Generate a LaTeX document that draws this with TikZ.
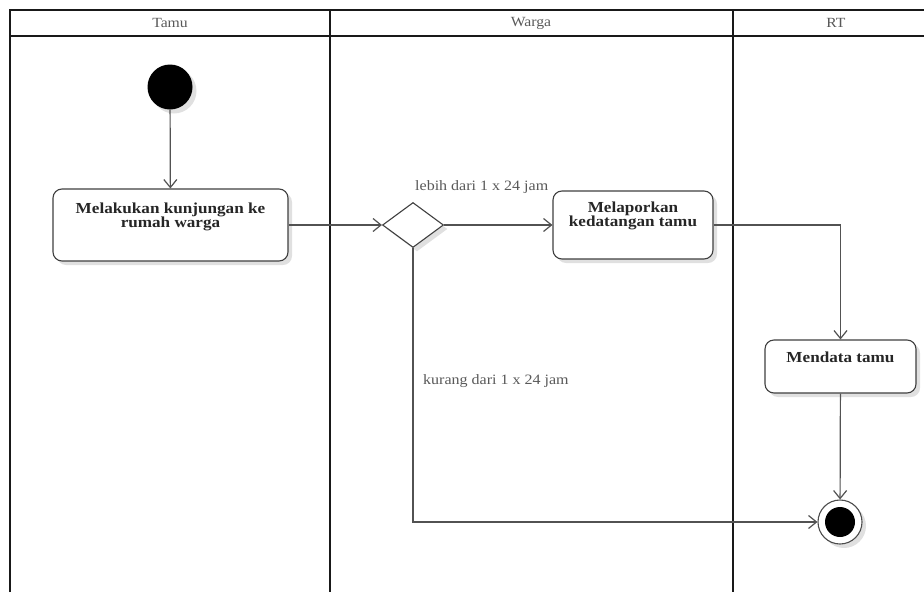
\documentclass[tikz,border=0pt]{standalone}
\usepackage{fontspec}
\setmainfont{Liberation Serif}
\usetikzlibrary{shapes.geometric,shadows,arrows.meta}

\newfontfamily\lanefont[FakeStretch=1.12]{Liberation Serif}

\tikzset{
  lane/.style={draw=black!90, line width=2pt},
  lanetitle/.style={text=black!65, font=\lanefont\fontsize{14}{14}\selectfont},
  softshadow/.style={drop shadow={shadow xshift=4pt, shadow yshift=-4pt, opacity=0.12, fill=black}},
  activity/.style={draw=black!75, line width=1.1pt, fill=white, rounded corners=9pt, inner sep=0pt, softshadow},
  acttext/.style={text=black!85, align=center, inner sep=0pt, anchor=north, font=\lanefont\bfseries\fontsize{15.3}{14.5}\selectfont},
  choice/.style={diamond, aspect=1.36, draw=black!75, line width=1.1pt, fill=white, minimum width=61pt, minimum height=45pt, inner sep=0pt, softshadow},
  guard/.style={text=black!65, inner sep=0pt, anchor=west, font=\lanefont\fontsize{14.3}{14}\selectfont},
  flow/.style={draw=black!68, line width=1.2pt, -{Straight Barb[length=8pt,width=13pt]}},
}

\begin{document}
\begin{tikzpicture}[x=1pt, y=-1pt]
        \useasboundingbox (0,0) rectangle (924,592);
        \fill[white] (0,0) rectangle (924,592);

        \draw[lane] (10,592) -- (10,10) -- (924,10);
        \draw[lane] (10,36) -- (924,36);
        \draw[lane] (330,10) -- (330,592);
        \draw[lane] (733,10) -- (733,592);
        \node[lanetitle] (tamu)  at (170,23) {Tamu};
        \node[lanetitle] (warga) at (531,23) {Warga};
        \node[lanetitle] (rt)    at (836,23) {RT};

        \node[circle, fill=black, minimum size=45pt, inner sep=0pt, softshadow] (start) at (170,87) {};

        \node[activity, minimum width=235pt, minimum height=72pt] (visit) at (170.5,225) {};
        \node[acttext] (visittext) at ([yshift=-14pt]visit.north) {Melakukan kunjungan ke\\rumah warga};

        \node[choice] (decide) at (413,225) {};

        \node[activity, minimum width=160pt, minimum height=68pt] (report) at (633,225) {};
        \node[acttext] (reporttext) at ([yshift=-11pt]report.north) {Melaporkan\\kedatangan tamu};

        \node[activity, minimum width=151pt, minimum height=53pt] (record) at (840.5,366.5) {};
        \node[acttext] (recordtext) at ([yshift=-12pt]record.north) {Mendata tamu};

        \node[circle, draw=black!70, line width=1.1pt, fill=white, minimum size=44pt, inner sep=0pt, softshadow] (finish) at (840,522) {};
        \fill[black] (finish.center) circle (15pt);

        \node[guard] (more) at (415,187) {lebih dari 1 x 24 jam};
        \node[guard] (less) at (423,381) {kurang dari 1 x 24 jam};

        \draw[flow] (start) -- (visit);
        \draw[flow] (visit) -- (decide);
        \draw[flow] (decide) -- (report);
        \draw[flow] (report.east) -| (record.north);
        \draw[flow] (record) -- (finish);
        \draw[flow] (decide.south) |- (finish.west);
    \end{tikzpicture}
\end{document}
